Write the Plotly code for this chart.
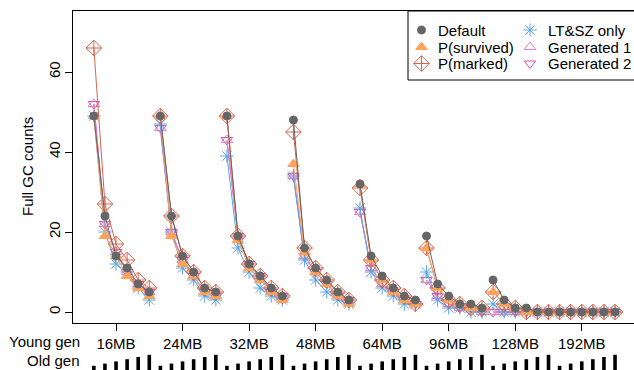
import plotly.graph_objects as go

young_gen = ["16MB", "24MB", "32MB", "48MB", "64MB", "96MB", "128MB", "192MB"]
old_gen_levels = [1, 2, 3, 4, 5, 6]  # six old-gen sizes per young-gen size

default = [49, 24, 14, 11, 7, 5,
           49, 24, 14, 10, 6, 5,
           49, 19, 12, 9, 6, 4,
           48, 16, 11, 8, 5, 3,
           32, 14, 9, 6, 4, 3,
           19, 7, 4, 2, 2, 1,
           8, 3, 1, 1, 0, 0,
           0, 0, 0, 0, 0, 0]
p_survived = [49, 19, 14, 9, 6, 4,
              49, 19, 12, 9, 5, 4,
              49, 18, 11, 8, 5, 3,
              37, 15, 10, 7, 4, 2,
              32, 13, 8, 5, 3, 2,
              16, 6, 3, 2, 1, 1,
              5, 2, 1, 0, 0, 0,
              0, 0, 0, 0, 0, 0]
p_marked = [66, 27, 17, 13, 8, 6,
            49, 24, 14, 10, 6, 5,
            49, 19, 12, 9, 6, 4,
            45, 16, 11, 8, 5, 3,
            31, 13, 8, 6, 4, 2,
            16, 6, 3, 2, 1, 1,
            5, 2, 1, 0, 0, 0,
            0, 0, 0, 0, 0, 0]
lt_sz = [49, 20, 12, 10, 6, 3,
         47, 20, 11, 8, 4, 3,
         39, 16, 10, 6, 4, 3,
         34, 13, 8, 5, 3, 2,
         26, 10, 6, 4, 2, 2,
         10, 3, 1, 1, 0, 0,
         2, 0, 0, 0, 0, 0,
         0, 0, 0, 0, 0, 0]
generated1 = [52, 22, 15, 10, 7, 5,
              46, 20, 13, 9, 5, 4,
              43, 19, 12, 9, 5, 4,
              34, 14, 10, 7, 4, 3,
              25, 11, 7, 5, 3, 2,
              8, 4, 2, 1, 1, 0,
              0, 0, 0, 0, 0, 0,
              0, 0, 0, 0, 0, 0]
generated2 = [52, 22, 15, 10, 7, 5,
              46, 20, 13, 9, 5, 4,
              43, 19, 12, 9, 5, 4,
              34, 14, 10, 7, 4, 3,
              25, 11, 7, 5, 3, 2,
              8, 4, 2, 1, 1, 0,
              0, 0, 0, 0, 0, 0,
              0, 0, 0, 0, 0, 0]

FONT = "Liberation Sans, Arial, Helvetica, sans-serif"
FS = 15
n_old = len(old_gen_levels)
n = len(young_gen) * n_old
xs = list(range(1, n + 1))

# plot box in pixels (left, right, top, bottom)
PL, PR, PT, PB = 73, 634, 11, 323


def px_x(p):
    return (p - PL) / (PR - PL)


def px_y(p):
    return (PB - p) / (PB - PT)


def grouped(vals):
    gx, gy = [], []
    for g in range(len(young_gen)):
        for k in range(n_old):
            i = g * n_old + k
            gx.append(xs[i]); gy.append(vals[i])
        gx.append(None); gy.append(None)
    return gx, gy


series = [
    ("Generated 2", generated2, "#DA4FB3", "triangle-down-open", 10),
    ("Generated 1", generated1, "#E57FC4", "triangle-up-open", 10),
    ("LT&SZ only", lt_sz, "#5AA2E6", "asterisk-open", 11),
    ("P(marked)", p_marked, "#D8654E", "diamond-cross-open", 12),
    ("P(survived)", p_survived, "#FDA35A", "triangle-up", 10),
    ("Default", default, "#666666", "circle", 8),
]

fig = go.Figure()
for name, vals, col, sym, sz in series:
    gx, gy = grouped(vals)
    fig.add_trace(go.Scatter(
        x=gx, y=gy, mode="lines+markers", name=name, showlegend=False,
        line=dict(color=col, width=1),
        marker=dict(symbol=sym, size=sz, color=col, line=dict(color=col, width=1)),
    ))

# legend (two columns, drawn in a pixel-space overlay)
legend_order = ["Default", "P(survived)", "P(marked)", "LT&SZ only", "Generated 1", "Generated 2"]
legend_mx = [421.5, 421.5, 421.5, 530, 530, 530]
legend_tx = [436, 436, 436, 546, 546, 546]
legend_y = [30, 47, 63.5, 30, 47, 63.5]
lookup = {s[0]: s for s in series}
annotations = []
for name, mx, tx, ly in zip(legend_order, legend_mx, legend_tx, legend_y):
    _, _, col, sym, sz = lookup[name]
    fig.add_trace(go.Scatter(
        x=[mx], y=[ly], mode="markers", xaxis="x2", yaxis="y2", showlegend=False,
        cliponaxis=False, hoverinfo="skip",
        marker=dict(symbol=sym, size=sz, color=col, line=dict(color=col, width=1)),
    ))
    annotations.append(dict(text=name, xref="paper", yref="paper", x=px_x(tx), y=px_y(ly),
                            xanchor="left", yanchor="middle", showarrow=False,
                            font=dict(size=FS)))

# Old gen size glyphs (bars of increasing height under each point)
shapes = []
for g in range(len(young_gen)):
    for k, lvl in enumerate(old_gen_levels):
        top_px = 368 - 2.2 * lvl
        shapes.append(dict(type="line", xref="x", yref="paper",
                           x0=xs[g * n_old + k], x1=xs[g * n_old + k],
                           y0=px_y(372), y1=px_y(top_px),
                           line=dict(color="black", width=3.6)))
# legend frame
shapes.append(dict(type="rect", xref="paper", yref="paper",
                   x0=px_x(408), x1=1.02, y0=px_y(80), y1=1.0,
                   line=dict(color="black", width=1), fillcolor="rgba(0,0,0,0)"))

tick_idx = [g * n_old + 2 for g in range(len(young_gen))]

annotations += [
    dict(text="Young gen", xref="paper", yref="paper", x=px_x(82), y=px_y(341.5),
         xanchor="right", yanchor="middle", showarrow=False, font=dict(size=FS)),
    dict(text="Old gen", xref="paper", yref="paper", x=px_x(82), y=px_y(360.5),
         xanchor="right", yanchor="middle", showarrow=False, font=dict(size=FS)),
    dict(text="Full GC counts", xref="paper", yref="paper", x=px_x(27), y=px_y(167),
         xanchor="center", yanchor="middle", textangle=-90, showarrow=False, font=dict(size=FS)),
]

fig.update_layout(
    width=634, height=370,
    margin=dict(l=PL, r=634 - PR, t=PT, b=370 - PB),
    plot_bgcolor="white", paper_bgcolor="white",
    font=dict(family=FONT, size=FS, color="black"),
    showlegend=False,
    xaxis=dict(range=[-0.88, 49.71], tickvals=[xs[i] for i in tick_idx], ticktext=young_gen,
               ticks="outside", ticklen=7, tickcolor="black", showline=True, linecolor="black",
               linewidth=1, mirror=True, showgrid=False, zeroline=False,
               tickfont=dict(size=FS), ticklabelstandoff=0),
    yaxis=dict(range=[-2.75, 75.25], tickvals=[0, 20, 40, 60], ticks="outside", ticklen=7,
               tickcolor="black", showline=True, linecolor="black", linewidth=1, mirror=False,
               showgrid=False, zeroline=False, tickangle=-90, tickfont=dict(size=FS),
               ticklabelstandoff=-1),
    xaxis2=dict(domain=[0, 1], range=[PL, PR], overlaying="x", anchor="y2", visible=False,
                fixedrange=True),
    yaxis2=dict(domain=[0, 1], range=[PB, PT], overlaying="y", anchor="x2", visible=False,
                fixedrange=True),
    shapes=shapes,
    annotations=annotations,
)

fig.write_html("out.html")
